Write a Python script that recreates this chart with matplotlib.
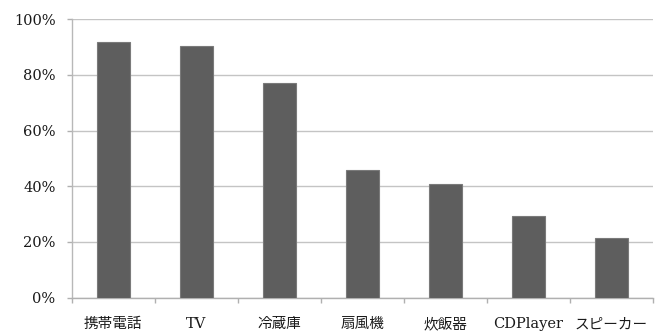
import matplotlib.pyplot as plt
from matplotlib.ticker import FixedLocator, PercentFormatter

# 家電の保有率
items = ['携帯電話', 'TV', '冷蔵庫', '扇風機', '炊飯器', 'CDPlayer', 'スピーカー']
ratio = [91.8, 90.3, 76.9, 45.8, 40.9, 29.3, 21.3]

plt.rcParams['font.family'] = ['DejaVu Serif', 'Noto Sans CJK JP']

fig = plt.figure(figsize=(6.65, 3.34), dpi=100)
ax = fig.add_axes([0.1078, 0.1087, 0.8737, 0.8343])

x = range(len(items))
ax.bar(x, ratio, width=0.4, color='#5e5e5e', edgecolor='#7a7a7a', linewidth=0.8, zorder=3)

ax.set_xlim(-0.5, len(items) - 0.5)
ax.set_ylim(0, 100)
ax.set_yticks([0, 20, 40, 60, 80, 100])
ax.yaxis.set_major_formatter(PercentFormatter(decimals=0))
ax.yaxis.grid(True, color='#c4c4c4', linewidth=1.0, zorder=0)

ax.set_xticks(list(x))
ax.set_xticklabels(items, fontsize=10.5, color='#1a1a1a')
ax.tick_params(axis='x', which='major', length=0, pad=14)
ax.xaxis.set_minor_locator(FixedLocator([i - 0.5 for i in range(len(items) + 1)]))
ax.tick_params(axis='x', which='minor', length=3.6, color='#b0b0b0', width=1.0)
ax.tick_params(axis='y', length=3.6, color='#b0b0b0', width=1.0, labelsize=10.5,
               labelcolor='#1a1a1a', pad=8)

for side in ['top', 'right']:
    ax.spines[side].set_visible(False)
ax.spines['left'].set_color('#b8b8b8')
ax.spines['bottom'].set_color('#b0b0b0')
ax.spines['left'].set_linewidth(1.0)
ax.spines['bottom'].set_linewidth(1.0)

fig.savefig('out.png', dpi=100)
